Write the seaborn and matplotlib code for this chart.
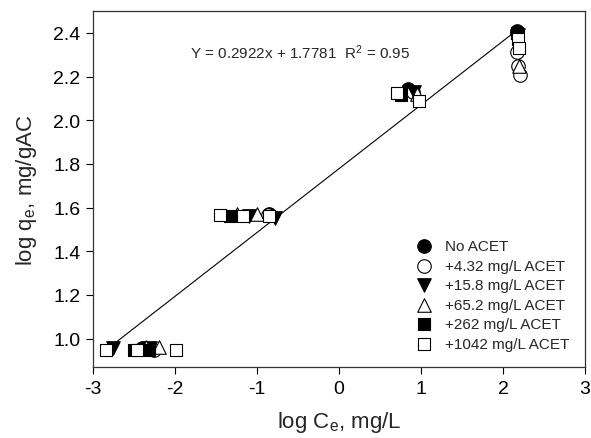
import numpy as np
import pandas as pd
import matplotlib
matplotlib.use("Agg")
import matplotlib.pyplot as plt
import seaborn as sns

# ---- data ----
series_names = ["No ACET", "+4.32 mg/L ACET", "+15.8 mg/L ACET",
                "+65.2 mg/L ACET", "+262 mg/L ACET", "+1042 mg/L ACET"]

no_acet_x = [-2.40, -0.85, 0.84, 2.17, 2.17]
no_acet_y = [0.955, 1.57, 2.145, 2.41, 2.40]

acet_4_x = [-2.26, -0.87, 0.90, 2.17, 2.18, 2.21]
acet_4_y = [0.95, 1.565, 2.13, 2.31, 2.25, 2.205]

acet_15_x = [-2.76, -2.30, -0.78, -1.10, 0.92, 2.18]
acet_15_y = [0.955, 0.955, 1.55, 1.56, 2.13, 2.39]

acet_65_x = [-2.19, -2.35, -1.00, -1.25, 0.95, 2.19]
acet_65_y = [0.96, 0.96, 1.57, 1.57, 2.12, 2.25]

acet_262_x = [-2.32, -2.50, -1.33, 0.75, 2.17]
acet_262_y = [0.95, 0.95, 1.56, 2.115, 2.40]

acet_1042_x = [-2.84, -2.46, -1.99, -1.45, -1.17, -0.86, 0.71, 0.97, 2.18, 2.19]
acet_1042_y = [0.95, 0.95, 0.95, 1.565, 1.56, 1.56, 2.125, 2.09, 2.37, 2.33]

fit_slope = 0.2922
fit_intercept = 1.7781
fit_r2 = 0.95
fit_x_range = [-2.76, 2.14]

x_ticks = [-3, -2, -1, 0, 1, 2, 3]
y_ticks = [1.0, 1.2, 1.4, 1.6, 1.8, 2.0, 2.2, 2.4]

series_x = [no_acet_x, acet_4_x, acet_15_x, acet_65_x, acet_262_x, acet_1042_x]
series_y = [no_acet_y, acet_4_y, acet_15_y, acet_65_y, acet_262_y, acet_1042_y]

# ---- styles ----
markers = ["o", "o", "v", "^", "s", "s"]
faces = ["black", "white", "black", "white", "black", "white"]
sizes = [95, 95, 95, 95, 80, 80]

sns.set_style("white")
plt.rcParams["font.family"] = ["Liberation Sans", "DejaVu Sans"]
plt.rcParams["mathtext.default"] = "regular"

fig = plt.figure(figsize=(5.91, 4.39), dpi=100)
ax = fig.add_axes([0.1574, 0.1617, 0.8325, 0.811])

# regression line
line_x = np.array(fit_x_range)
line_df = pd.DataFrame({"x": line_x, "y": fit_slope * line_x + fit_intercept})
sns.lineplot(data=line_df, x="x", y="y", ax=ax, color="black", linewidth=0.8,
             legend=False)

for name, xs, ys, m, fc, s in zip(series_names, series_x, series_y,
                                   markers, faces, sizes):
    df = pd.DataFrame({"x": xs, "y": ys})
    sns.scatterplot(data=df, x="x", y="y", ax=ax, marker=m, color=fc,
                    edgecolor="black", linewidth=0.8, s=s, label=name,
                    zorder=3)

ax.set_xlim(-3, 3)
ax.set_ylim(0.87, 2.5)
ax.set_xticks(x_ticks)
ax.set_xticklabels([str(t) for t in x_ticks])
ax.set_yticks(y_ticks)
ax.set_yticklabels([f"{t:.1f}" for t in y_ticks])
ax.tick_params(axis="both", direction="out", length=5, width=0.8,
               labelsize=14, bottom=True, left=True, colors="black",
               pad=4)
for sp in ax.spines.values():
    sp.set_color("#333333")
    sp.set_linewidth(0.9)

ax.set_xlabel("log C$_{e}$, mg/L", fontsize=16, labelpad=9)
ax.set_ylabel("log q$_{e}$, mg/gAC", fontsize=16, labelpad=10)

ax.text(-0.48, 2.315,
        f"Y = {fit_slope:.4f}x + {fit_intercept:.4f}  R$^{{2}}$ = {fit_r2:.2f}",
        ha="center", va="center", fontsize=11)

leg = ax.legend(loc="upper left", bbox_to_anchor=(0.642, 0.376), frameon=False,
                fontsize=11, handletextpad=0.75, labelspacing=0.36,
                borderaxespad=0, handlelength=1.2)

fig.savefig("out.png", dpi=100)
